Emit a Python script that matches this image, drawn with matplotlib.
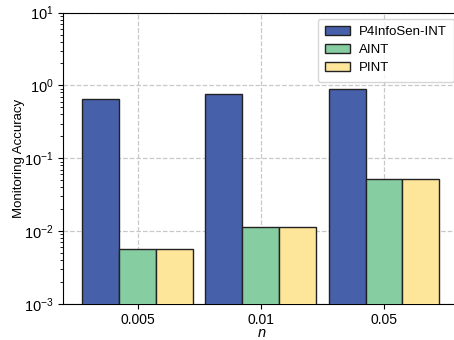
import matplotlib
matplotlib.use('Agg')
import matplotlib.pyplot as plt
import numpy as np

plt.rcParams['font.family'] = ['Liberation Sans', 'DejaVu Sans']
plt.rcParams['mathtext.fontset'] = 'custom'
plt.rcParams['mathtext.rm'] = 'Liberation Sans'
plt.rcParams['mathtext.it'] = 'Liberation Sans:italic'

categories = ['0.005', '0.01', '0.05']
series = ['P4InfoSen-INT', 'AINT', 'PINT']
p4infosen = [0.65, 0.77, 0.90]
aint = [0.0057, 0.0115, 0.052]
pint = [0.0057, 0.0115, 0.052]
colors = ['#4760AA', '#87CDA2', '#FDE59A']

fig = plt.figure(figsize=(4.54, 3.4), dpi=100)
ax = fig.add_axes([0.139, 0.106, 0.875, 0.857])

x = np.arange(len(categories))
w = 0.3
for i, (vals, name) in enumerate(zip([p4infosen, aint, pint], series)):
    ax.bar(x + (i - 1) * w, vals, w, color=colors[i], edgecolor='#222222',
           linewidth=1.0, label=name, zorder=3)

ax.set_yscale('log')
ax.set_ylim(1e-3, 10)
ax.set_xlim(-0.605, 2.62)
ax.set_xticks(x)
ax.set_xticklabels(categories)
ax.set_xlabel('$n$', fontsize=10.5, labelpad=-0.5)
ax.set_ylabel('Monitoring Accuracy', fontsize=9.5, labelpad=-1)
ax.tick_params(axis='both', labelsize=10.5, direction='out')
ax.tick_params(axis='x', labelsize=10, pad=3)
ax.tick_params(axis='y', which='minor', length=2)
ax.grid(True, which='major', linestyle='--', color='#c8c8c8', linewidth=0.9, zorder=0)
ax.set_axisbelow(True)
ax.legend(loc='upper right', fontsize=9.5, frameon=True, handlelength=1.9,
          handletextpad=0.7, borderpad=0.55, labelspacing=0.45, borderaxespad=0.45)

fig.savefig('out.png', dpi=100)
